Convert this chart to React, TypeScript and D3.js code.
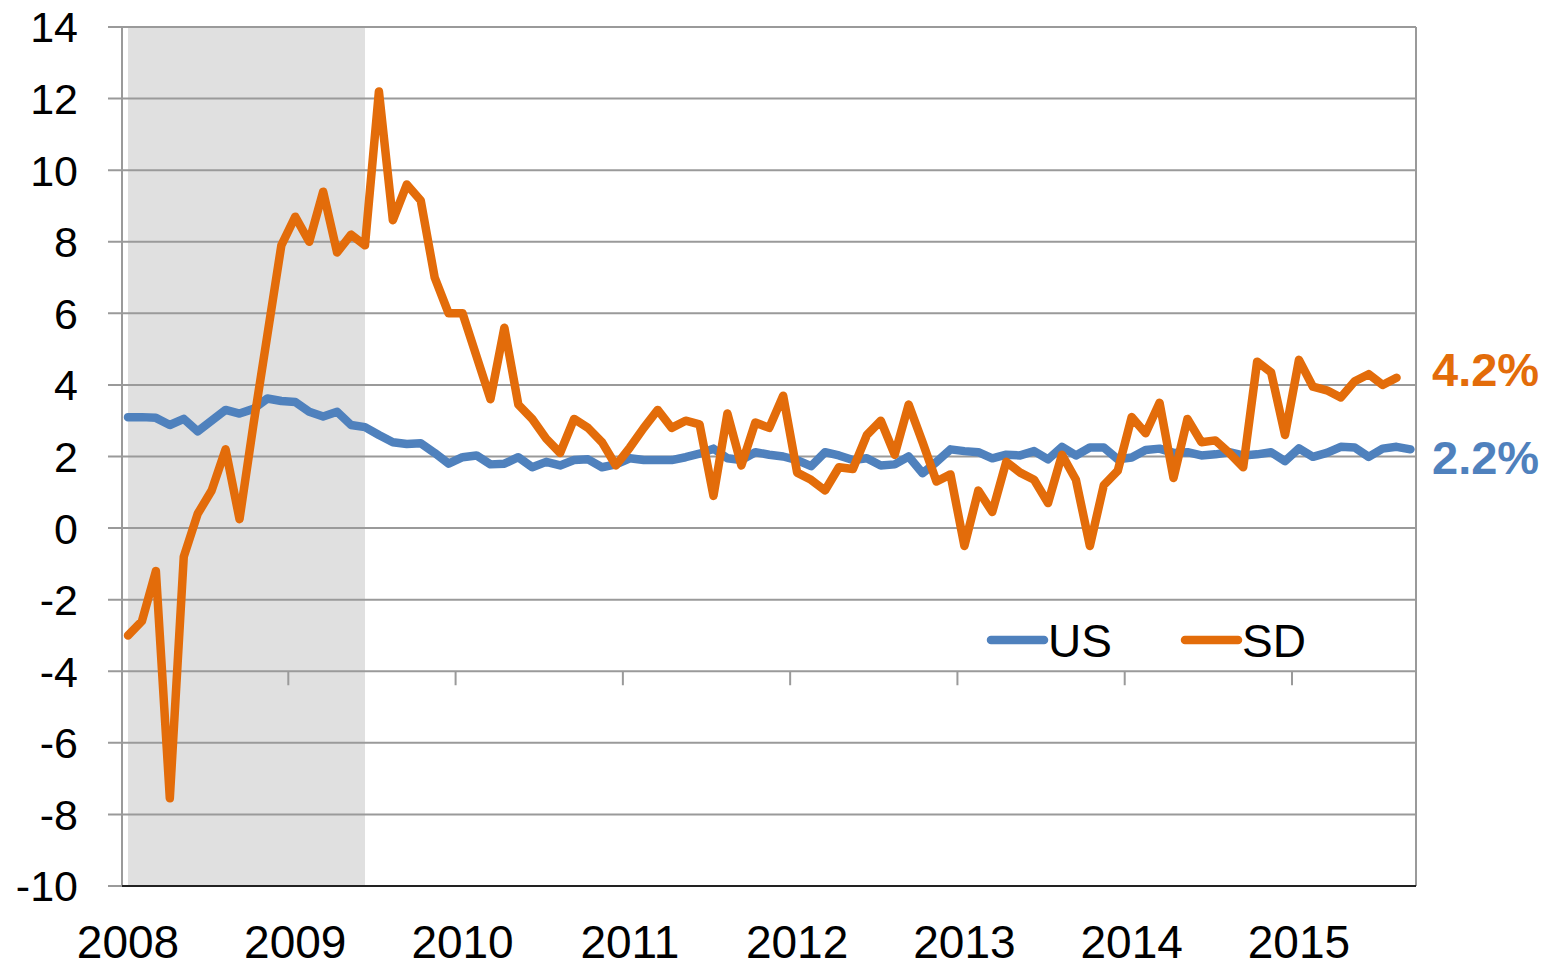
import React from "react";
import * as d3 from "d3";

const years = ["2008", "2009", "2010", "2011", "2012", "2013", "2014", "2015"];
const yTicks = [-10, -8, -6, -4, -2, 0, 2, 4, 6, 8, 10, 12, 14];
const recessionEndIndex = 17;

const sdValues = [
  -3.0, -2.6, -1.2, -7.55, -0.8, 0.4, 1.05, 2.2, 0.25, 2.9, 5.4, 7.9,
  8.7, 8.0, 9.4, 7.7, 8.2, 7.9, 12.2, 8.6, 9.6, 9.15, 7.0, 6.0,
  6.0, 4.8, 3.6, 5.6, 3.45, 3.05, 2.5, 2.1, 3.05, 2.8, 2.4, 1.75,
  2.25, 2.8, 3.3, 2.8, 3.0, 2.9, 0.9, 3.2, 1.75, 2.95, 2.8, 3.7,
  1.55, 1.35, 1.05, 1.7, 1.65, 2.6, 3.0, 2.05, 3.45, 2.4, 1.3, 1.5,
  -0.5, 1.05, 0.45, 1.85, 1.55, 1.35, 0.7, 2.05, 1.35, -0.5, 1.2, 1.6,
  3.1, 2.65, 3.5, 1.4, 3.05, 2.4, 2.45, 2.1, 1.7, 4.65, 4.35, 2.6,
  4.7, 3.95, 3.85, 3.65, 4.1, 4.3, 4.0, 4.2,
];

const usValues = [
  3.1, 3.1, 3.08, 2.88, 3.05, 2.7, 3.0, 3.3, 3.2, 3.33, 3.62, 3.55,
  3.52, 3.25, 3.12, 3.25, 2.88, 2.82, 2.6, 2.4, 2.35, 2.37, 2.1, 1.8,
  1.98, 2.03, 1.78, 1.8, 1.98, 1.7, 1.85, 1.75, 1.9, 1.92, 1.7, 1.78,
  1.95, 1.9, 1.9, 1.9, 1.98, 2.08, 2.22, 1.95, 1.9, 2.12, 2.05, 2.0,
  1.9, 1.73, 2.12, 2.03, 1.9, 1.95, 1.75, 1.78, 2.0, 1.53, 1.85, 2.2,
  2.15, 2.12, 1.95, 2.05, 2.03, 2.15, 1.92, 2.27, 2.03, 2.25, 2.25, 1.92,
  1.97, 2.18, 2.22, 2.1, 2.12, 2.03, 2.06, 2.12, 2.03, 2.06, 2.12, 1.87,
  2.23, 1.99, 2.1, 2.27, 2.25, 1.99, 2.22, 2.27, 2.2,
];

const seriesNames = ["US", "SD"];
const endLabels = ["2.2%", "4.2%"];

const BLUE = "#4F81BD";
const ORANGE = "#E36C0A";
const GRID = "#9a9a9a";

export default function App() {
  const W = 1553;
  const H = 967;
  const plotLeft = 122;
  const plotRight = 1416;
  const yTop = 27;
  const yBottom = 886;

  const x = d3.scaleLinear().domain([0, 92]).range([128, 128 + 92 * 13.94]);
  const y = d3.scaleLinear().domain([-10, 14]).range([yBottom, yTop]);

  const line = d3
    .line<number>()
    .x((_, i) => x(i))
    .y((d) => y(d));

  const font = "'Liberation Sans', Arial, sans-serif";

  return (
    <svg
      width={W}
      height={H}
      style={{ position: "absolute", left: 0, top: 0, background: "#fff" }}
    >
      <rect
        x={x(0)}
        y={yTop}
        width={x(recessionEndIndex) - x(0)}
        height={yBottom - yTop}
        fill="#e0e0e0"
      />
      {yTicks.map((t) => (
        <line
          key={t}
          x1={108}
          x2={plotRight}
          y1={y(t)}
          y2={y(t)}
          stroke={GRID}
          strokeWidth={2}
        />
      ))}
      <line x1={plotLeft} x2={plotLeft} y1={yTop} y2={yBottom} stroke={GRID} strokeWidth={2} />
      <line x1={plotRight} x2={plotRight} y1={yTop} y2={yBottom} stroke={GRID} strokeWidth={2} />
      <line x1={plotLeft} x2={plotRight} y1={yBottom} y2={yBottom} stroke="#222" strokeWidth={2} />
      {years.slice(1).map((yr, k) => (
        <line
          key={yr}
          x1={x(12 * (k + 1) - 0.5)}
          x2={x(12 * (k + 1) - 0.5)}
          y1={y(-4)}
          y2={y(-4) + 14}
          stroke={GRID}
          strokeWidth={2}
        />
      ))}
      {yTicks.map((t) => (
        <text
          key={t}
          x={78}
          y={y(t)}
          dy="0.36em"
          textAnchor="end"
          fontFamily={font}
          fontSize={43}
          fill="#000"
        >
          {t}
        </text>
      ))}
      {years.map((yr, k) => (
        <text
          key={yr}
          x={x(12 * k)}
          y={958}
          textAnchor="middle"
          fontFamily={font}
          fontSize={46}
          fill="#000"
        >
          {yr}
        </text>
      ))}
      <path
        d={line(usValues) || ""}
        fill="none"
        stroke={BLUE}
        strokeWidth={8.5}
        strokeLinejoin="round"
        strokeLinecap="round"
      />
      <path
        d={line(sdValues) || ""}
        fill="none"
        stroke={ORANGE}
        strokeWidth={8.5}
        strokeLinejoin="round"
        strokeLinecap="round"
      />
      <line x1={991} x2={1044} y1={640} y2={640} stroke={BLUE} strokeWidth={8.5} strokeLinecap="round" />
      <text x={1048} y={640} dy="0.36em" fontFamily={font} fontSize={46} fill="#000">
        {seriesNames[0]}
      </text>
      <line x1={1185} x2={1238} y1={640} y2={640} stroke={ORANGE} strokeWidth={8.5} strokeLinecap="round" />
      <text x={1242} y={640} dy="0.36em" fontFamily={font} fontSize={46} fill="#000">
        {seriesNames[1]}
      </text>
      <text
        x={1432}
        y={y(4.2) - 9}
        dy="0.36em"
        fontFamily={font}
        fontSize={47}
        fontWeight="bold"
        fill={ORANGE}
      >
        {endLabels[1]}
      </text>
      <text
        x={1432}
        y={y(2.2) + 8}
        dy="0.36em"
        fontFamily={font}
        fontSize={47}
        fontWeight="bold"
        fill={BLUE}
      >
        {endLabels[0]}
      </text>
    </svg>
  );
}
